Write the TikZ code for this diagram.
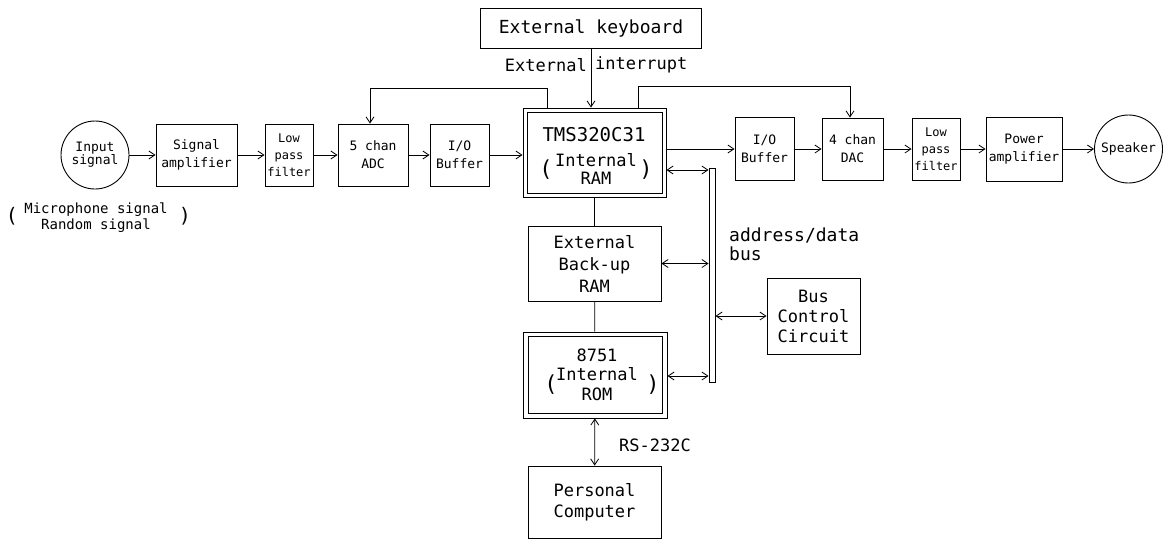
\documentclass[tikz,border=0pt]{standalone}
\usepackage{fontspec}
\newfontfamily\plotfont{DejaVu Sans Mono}
\usetikzlibrary{arrows.meta}
\begin{document}
\begin{tikzpicture}[x=1pt,y=-1pt,
  box/.style={draw, line width=0.9pt, inner sep=0pt, align=center},
  circ/.style={draw, circle, line width=0.9pt, inner sep=0pt, align=center},
  arr/.style={-{Straight Barb[length=6pt,width=8pt]}, line width=0.8pt},
  darr/.style={{Straight Barb[length=6pt,width=8pt]}-{Straight Barb[length=6pt,width=8pt]}, line width=0.8pt},
  inner/.style={line width=0.9pt},
  sm/.style={font=\plotfont\fontsize{13}{18}\selectfont},
  lpft/.style={font=\plotfont\fontsize{12}{17}\selectfont},
  lg/.style={font=\plotfont\fontsize{17}{21}\selectfont},
  paren/.style={font=\plotfont\fontsize{22}{22}\selectfont, inner sep=0pt},
  lbl/.style={inner sep=0pt}
]
\useasboundingbox (0,0) rectangle (1169,541);

% main signal chain
\node[circ, minimum size=68pt, font=\plotfont\fontsize{13}{13}\selectfont] (inp) at (95,155) {Input\\signal};
\node[box, sm, minimum width=81pt, minimum height=62pt] (amp) at (196.5,155) {Signal\\amplifier};
\node[box, lpft, minimum width=48pt, minimum height=62pt] (lpf1) at (289,155) {Low\\pass\\filter};
\node[box, sm, minimum width=70pt, minimum height=62pt] (adc) at (373,155) {5 chan\\ADC};
\node[box, sm, minimum width=59pt, minimum height=62pt] (buf1) at (459.5,155) {I/O\\Buffer};
\node[box, minimum width=143pt, minimum height=89pt] (tms) at (594.5,152.5) {};
\draw[inner] ([shift={(5,5)}]tms.north west) rectangle ([shift={(-4.5,-4.5)}]tms.south east);
\node[box, sm, minimum width=59pt, minimum height=63pt] (buf2) at (764.5,149) {I/O\\Buffer};
\node[box, sm, minimum width=61pt, minimum height=62pt] (dac) at (852.5,149) {4 chan\\DAC};
\node[box, lpft, minimum width=48pt, minimum height=62pt] (lpf2) at (936,149) {Low\\pass\\filter};
\node[box, sm, minimum width=76pt, minimum height=64pt] (pa) at (1024,149) {Power\\amplifier};
\node[circ, sm, minimum size=68pt] (spk) at (1128.5,149) {Speaker};

% TMS texts
\node[lbl, font=\plotfont\fontsize{19}{19}\selectfont] (tmsname) at (594,135) {TMS320C31};
\node[lbl, lg] (tmsint) at (596,160) {Internal};
\node[lbl, lg] (tmsram) at (596,178) {RAM};
\node[paren] (tmsl) at (546,170) {(};
\node[paren] (tmsr) at (646,170) {)};

% microphone note
\node[lbl, font=\plotfont\fontsize{14}{16}\selectfont, align=center] (mic) at (96,218) {Microphone signal\\Random signal};
\node[paren, font=\plotfont\fontsize{20}{20}\selectfont] (micl) at (12,216) {(};
\node[paren, font=\plotfont\fontsize{20}{20}\selectfont] (micr) at (185,216) {)};

% keyboard
\node[box, font=\plotfont\fontsize{18}{21}\selectfont, minimum width=221pt, minimum height=40pt] (kbd) at (591,28) {External keyboard};
\node[lbl, lg, anchor=east] (ext) at (587,65) {External};
\node[lbl, lg, anchor=west] (intr) at (595,65) {interrupt};

% memory column
\node[box, minimum width=133pt, minimum height=75pt, font=\plotfont\fontsize{17}{22}\selectfont] (ram) at (594.5,263.5) {External\\Back-up\\RAM};
\node[box, minimum width=144pt, minimum height=86pt] (rom) at (595,375) {};
\draw[inner] ([shift={(5.5,5)}]rom.north west) rectangle ([shift={(-5,-5)}]rom.south east);
\node[lbl, lg] (romname) at (597,355) {8751};
\node[lbl, lg] (romint) at (597,374) {Internal};
\node[lbl, lg] (romrom) at (597,394) {ROM};
\node[paren] (roml) at (551,385) {(};
\node[paren] (romr) at (653,385) {)};
\node[box, minimum width=133pt, minimum height=72pt, font=\plotfont\fontsize{17}{21}\selectfont] (pc) at (594.5,502) {Personal\\Computer};
\node[lbl, lg, anchor=west] (rs) at (619,445) {RS-232C};

% bus
\node[draw, line width=0.9pt, inner sep=0pt, minimum width=6pt, minimum height=214pt] (bus) at (712,275) {};
\node[box, minimum width=93pt, minimum height=76pt, font=\plotfont\fontsize{17}{20}\selectfont] (bc) at (813.5,316) {Bus\\Control\\Circuit};
\node[lbl, align=left, anchor=west, font=\plotfont\fontsize{18}{19}\selectfont] (adl) at (729,244) {address/data\\bus};

% coordinates for bends
\coordinate (t1) at (547,88);
\coordinate (t2) at (370,88);
\coordinate (t3) at (638,86);
\coordinate (t4) at (850,86);
\coordinate (b1) at (0,170);
\coordinate (b4) at (0,376);

% signal chain arrows
\draw[arr] (inp) -- (amp);
\draw[arr] (amp) -- (lpf1);
\draw[arr] (lpf1) -- (adc);
\draw[arr] (adc) -- (buf1);
\draw[arr] (buf1.east) -- (buf1.east -| tms.west);
\draw[arr] (buf2.west -| tms.east) -- (buf2.west);
\draw[arr] (buf2) -- (dac);
\draw[arr] (dac) -- (lpf2);
\draw[arr] (lpf2) -- (pa);
\draw[arr] (pa) -- (spk);

% feedback / control lines
\draw[arr] (t1 |- tms.north) -- (t1) -- (t2) -- (t2 |- adc.north);
\draw[arr] (t3 |- tms.north) -- (t3) -- (t4) -- (t4 |- dac.north);
\draw[arr] (kbd) -- (kbd |- tms.north);

% memory column
\draw[line width=0.8pt] (tms) -- (ram);
\draw[line width=0.8pt] (ram) -- (rom);
\draw[darr] (rom) -- (pc);

% bus arrows
\draw[darr] (tms.east |- b1) -- (bus.west |- b1);
\draw[darr] (ram.east) -- (ram.east -| bus.west);
\draw[darr] (bc.west -| bus.east) -- (bc.west);
\draw[darr] (rom.east |- b4) -- (bus.west |- b4);
\end{tikzpicture}
\end{document}
